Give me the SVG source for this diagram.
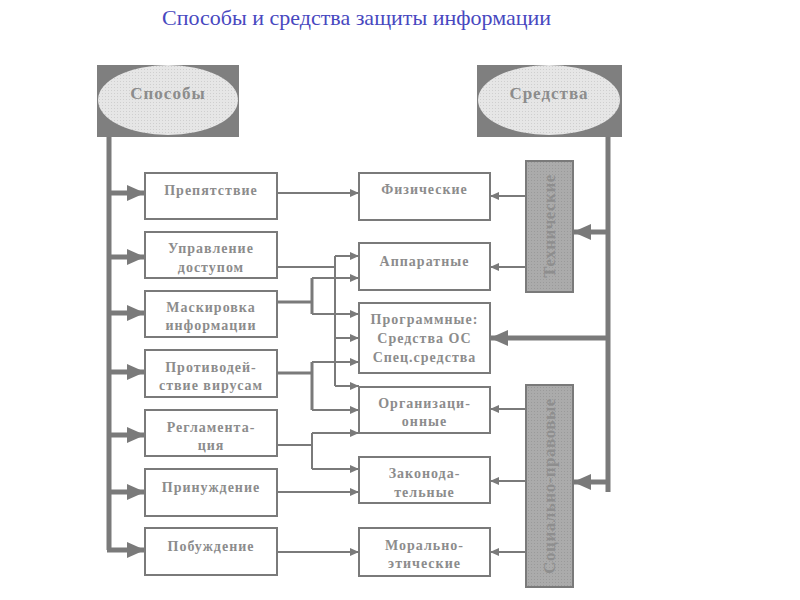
<svg xmlns="http://www.w3.org/2000/svg" width="800" height="600" viewBox="0 0 800 600">
<defs>
<marker id="sm" markerUnits="userSpaceOnUse" markerWidth="9" markerHeight="8" refX="9" refY="4" orient="auto"><path d="M0,0 L9,4 L0,8 z" fill="#7a7a7a"/></marker>
<marker id="bg" markerUnits="userSpaceOnUse" markerWidth="18" markerHeight="16" refX="18" refY="8" orient="auto"><path d="M0,0 L18,8 L0,16 z" fill="#7a7a7a"/></marker>
<pattern id="dots" width="3" height="3" patternUnits="userSpaceOnUse"><rect width="3" height="3" fill="#e6e6e6"/><rect width="1" height="1" fill="#cfcfcf"/></pattern>
<pattern id="dots2" width="3" height="3" patternUnits="userSpaceOnUse"><rect width="3" height="3" fill="#ababab"/><rect width="1" height="1" fill="#9a9a9a"/></pattern>
</defs>
<style>
text{font-family:"Liberation Serif","Times New Roman",serif;font-weight:bold;fill:#8c8c8c;text-anchor:middle}
.title{font-weight:normal;fill:#4848c0;text-anchor:start;font-size:22px}
.box{fill:#fff;stroke:#7a7a7a;stroke-width:2}
.b{font-size:14px;letter-spacing:1px}
.head{fill:#7f7f7f}
.ell{fill:url(#dots)}
.hd{font-size:17px;letter-spacing:1px}
.vbox{fill:url(#dots2);stroke:#7a7a7a;stroke-width:2}
.vt{font-size:17px;fill:#8e8e8e;letter-spacing:0.5px}
.thin{fill:none;stroke:#7a7a7a;stroke-width:2;marker-end:url(#sm)}
.line{fill:none;stroke:#7a7a7a;stroke-width:2}
.thick{fill:none;stroke:#7a7a7a;stroke-width:5}
.tarr{fill:none;stroke:#7a7a7a;stroke-width:5;marker-end:url(#bg)}
</style>
<text class="title" x="162" y="25">Способы и средства защиты информации</text>

<g id="connectors">
<path class="thick" d="M109,137 V550"/>
<path class="tarr" d="M107,550 H145"/>
<path class="tarr" d="M109,193 H145"/>
<path class="tarr" d="M109,257 H145"/>
<path class="tarr" d="M109,313 H145"/>
<path class="tarr" d="M109,372 H145"/>
<path class="tarr" d="M109,435 H145"/>
<path class="tarr" d="M109,492 H145"/>

<path class="thick" d="M608,137 V492"/>
<path class="tarr" d="M610,232 H573"/>
<path class="tarr" d="M610,338 H490"/>
<path class="tarr" d="M610,482 H573"/>

<path class="thin" d="M526,196 H490"/>
<path class="thin" d="M526,267 H490"/>
<path class="thin" d="M526,409 H490"/>
<path class="thin" d="M526,481 H490"/>
<path class="thin" d="M526,552 H490"/>

<path class="thin" d="M277,193 H359"/>
<path class="line" d="M277,267 H335"/>
<path class="line" d="M335,256 V386"/>
<path class="thin" d="M335,256 H359"/>
<path class="thin" d="M335,338 H359"/>
<path class="thin" d="M335,386 H359"/>

<path class="line" d="M277,302 H312" style="stroke-width:3"/>
<path class="line" d="M312,278 V314" style="stroke-width:3"/>
<path class="thin" d="M312,278 H359"/>
<path class="thin" d="M312,314 H359"/>

<path class="line" d="M277,373 H312" style="stroke-width:3"/>
<path class="line" d="M312,362 V410" style="stroke-width:3"/>
<path class="thin" d="M312,362 H359"/>
<path class="thin" d="M312,410 H359"/>

<path class="line" d="M277,445 H312"/>
<path class="line" d="M312,433 V469"/>
<path class="thin" d="M312,433 H359"/>
<path class="thin" d="M312,469 H359"/>

<path class="thin" d="M277,492 H359"/>
<path class="thin" d="M277,552 H359"/>
</g>

<g id="sposoby"><rect class="head" x="97" y="65" width="142" height="72"/><ellipse class="ell" cx="168" cy="100" rx="70" ry="35"/><text class="hd" x="168" y="99">Способы</text></g>
<g id="sredstva"><rect class="head" x="477" y="65" width="145" height="72"/><ellipse class="ell" cx="549" cy="100" rx="71" ry="35"/><text class="hd" x="549" y="99">Средства</text></g>

<g id="prepyatstvie"><rect class="box" x="145" y="173" width="132" height="46"/><text class="b" x="211" y="195">Препятствие</text></g>
<g id="upravlenie"><rect class="box" x="145" y="232" width="132" height="46"/><text class="b" x="211" y="253">Управление</text><text class="b" x="211" y="272">доступом</text></g>
<g id="maskirovka"><rect class="box" x="145" y="291" width="132" height="46"/><text class="b" x="211" y="312">Маскировка</text><text class="b" x="211" y="330">информации</text></g>
<g id="protivodeistvie"><rect class="box" x="145" y="350" width="132" height="47"/><text class="b" x="211" y="372">Противодей-</text><text class="b" x="211" y="390">ствие вирусам</text></g>
<g id="reglamentaciya"><rect class="box" x="145" y="410" width="132" height="46"/><text class="b" x="211" y="432">Регламента-</text><text class="b" x="211" y="450">ция</text></g>
<g id="prinuzhdenie"><rect class="box" x="145" y="469" width="132" height="47"/><text class="b" x="211" y="492">Принуждение</text></g>
<g id="pobuzhdenie"><rect class="box" x="145" y="528" width="132" height="47"/><text class="b" x="211" y="551">Побуждение</text></g>

<g id="fizicheskie"><rect class="box" x="359" y="173" width="131" height="47"/><text class="b" x="424.5" y="194">Физические</text></g>
<g id="apparatnye"><rect class="box" x="359" y="243" width="131" height="47"/><text class="b" x="424.5" y="266">Аппаратные</text></g>
<g id="programmnye"><rect class="box" x="359" y="303" width="131" height="70"/><text class="b" x="424.5" y="324">Программные:</text><text class="b" x="424.5" y="343">Средства ОС</text><text class="b" x="424.5" y="362">Спец.средства</text></g>
<g id="organizacionnye"><rect class="box" x="359" y="387" width="131" height="46"/><text class="b" x="424.5" y="408">Организаци-</text><text class="b" x="424.5" y="426">онные</text></g>
<g id="zakonodatelnye"><rect class="box" x="359" y="457" width="131" height="46"/><text class="b" x="424.5" y="478">Законода-</text><text class="b" x="424.5" y="497">тельные</text></g>
<g id="moralnye"><rect class="box" x="359" y="528" width="131" height="48"/><text class="b" x="424.5" y="550">Морально-</text><text class="b" x="424.5" y="568">этические</text></g>

<g id="tehnicheskie"><rect class="vbox" x="526" y="161" width="47" height="131"/><text class="vt" transform="translate(555,226) rotate(-90)">Технические</text></g>
<g id="socialno"><rect class="vbox" x="526" y="385" width="47" height="202"/><text class="vt" transform="translate(555,486) rotate(-90)">Социально-правовые</text></g>
</svg>
